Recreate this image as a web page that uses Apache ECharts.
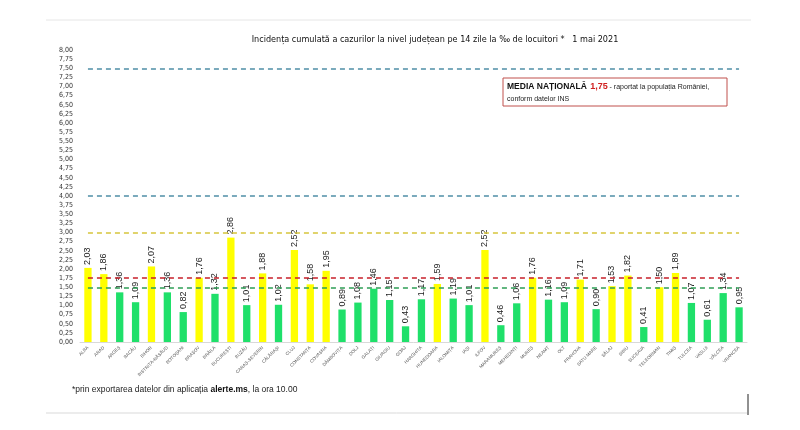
<!DOCTYPE html>
<html>
<head>
<meta charset="utf-8">
<script src="https://cdn.jsdelivr.net/npm/echarts@6/dist/echarts.min.js"></script>
<style>
html,body{margin:0;padding:0;background:#fff;}
#chart{width:800px;height:430px;}
</style>
</head>
<body>
<div id="chart"></div>
<script>
var judete = ['ALBA','ARAD','ARGEȘ','BACĂU','BIHOR','BISTRIȚA-NĂSĂUD','BOTOȘANI','BRAȘOV','BRĂILA','BUCUREȘTI',
	'BUZĂU','CARAȘ-SEVERIN','CĂLĂRAȘI','CLUJ','CONSTANȚA','COVASNA','DÂMBOVIȚA','DOLJ','GALAȚI','GIURGIU',
	'GORJ','HARGHITA','HUNEDOARA','IALOMIȚA','IAȘI','ILFOV','MARAMUREȘ','MEHEDINȚI','MUREȘ','NEAMȚ',
	'OLT','PRAHOVA','SATU MARE','SĂLAJ','SIBIU','SUCEAVA','TELEORMAN','TIMIȘ','TULCEA','VASLUI','VÂLCEA','VRANCEA'];
var incidenta = [2.03,1.86,1.36,1.09,2.07,1.36,0.82,1.76,1.32,2.86,
	1.01,1.88,1.02,2.52,1.58,1.95,0.89,1.08,1.46,1.15,
	0.43,1.17,1.59,1.19,1.01,2.52,0.46,1.06,1.76,1.16,
	1.09,1.71,0.90,1.53,1.82,0.41,1.50,1.89,1.07,0.61,1.34,0.95];
// praguri (linii orizontale)
var praguri = [7.5, 4.0, 3.0, 1.75, 1.5];
var culoriPraguri = ['#4f8ea6','#4f8ea6','#d6c53c','#c8202a','#2e9e55'];
var mediaNationala = '1,75';

var myChart = echarts.init(document.getElementById('chart'));

function fmt(v){
	return v.toFixed(2).replace('.', ',');
}

var linii = [];
for (var i = 0; i < praguri.length; i++) {
	linii.push([
		{coord: [0, praguri[i]], lineStyle: {color: culoriPraguri[i]}},
		{coord: [judete.length - 1, praguri[i]]}
	]);
}

var option = {
	backgroundColor: '#fff',
	animation: false,
	title: {
		text: 'Incidența cumulată a cazurilor la nivel județean pe 14 zile la ‰ de locuitori *   1 mai 2021',
		left: 430,
		top: 30,
		textAlign: 'center',
		textStyle: {
			fontSize: 9,
			fontWeight: 'normal',
			color: '#111',
			fontFamily: 'Liberation Sans Narrow, DejaVu Sans Condensed, sans-serif'
		}
	},
	grid: {
		left: 80,
		right: 53,
		top: 50,
		bottom: 88
	},
	xAxis: {
		type: 'category',
		data: judete,
		axisTick: {show: false},
		axisLine: {lineStyle: {color: '#d9d9d9'}},
		axisLabel: {
			rotate: 45,
			interval: 0,
			fontSize: 4.5,
			color: '#555',
			margin: 5,
			fontFamily: 'Liberation Sans, sans-serif'
		}
	},
	yAxis: {
		type: 'value',
		min: 0,
		max: 8,
		interval: 0.25,
		splitLine: {show: false},
		axisLine: {show: false},
		axisTick: {show: false},
		axisLabel: {
			fontSize: 7,
			color: '#333',
			margin: 7,
			fontFamily: 'Liberation Sans Narrow, DejaVu Sans Condensed, sans-serif',
			formatter: function (v) { return fmt(v); }
		}
	},
	series: [{
		type: 'bar',
		data: incidenta,
		barWidth: '46%',
		itemStyle: {
			color: function (p) {
				return p.value >= 1.5 ? '#ffff00' : '#1fe06a';
			}
		},
		label: {
			show: true,
			position: 'top',
			rotate: 90,
			align: 'left',
			verticalAlign: 'middle',
			distance: 3,
			fontSize: 9,
			color: '#222',
			fontFamily: 'Liberation Sans, sans-serif',
			formatter: function (p) { return fmt(p.value); }
		},
		markLine: {
			silent: true,
			symbol: 'none',
			label: {show: false},
			lineStyle: {type: [5, 4], width: 1.6},
			data: linii
		}
	}],
	graphic: [
		{
			type: 'line',
			shape: {x1: 46, y1: 20, x2: 751, y2: 20},
			style: {stroke: '#e6e6e6', lineWidth: 1}
		},
		{
			type: 'line',
			shape: {x1: 46, y1: 413, x2: 747, y2: 413},
			style: {stroke: '#d9d9d9', lineWidth: 1}
		},
		{
			type: 'line',
			shape: {x1: 748, y1: 394, x2: 748, y2: 415},
			style: {stroke: '#222', lineWidth: 1}
		},
		{
			type: 'rect',
			shape: {x: 503, y: 78, width: 224, height: 28},
			style: {fill: '#fff', stroke: '#c0504d', lineWidth: 1}
		},
		{
			type: 'text',
			left: 507,
			top: 81,
			style: {
				text: '{b|MEDIA NAȚIONALĂ} {r|' + mediaNationala + '}{n| - raportat la populația României,}\n{n|conform datelor INS}',
				fontFamily: 'Liberation Sans, sans-serif',
				rich: {
					b: {fontSize: 8.5, fontWeight: 'bold', fill: '#111', lineHeight: 12},
					r: {fontSize: 9, fontWeight: 'bold', fill: '#d02020', lineHeight: 12},
					n: {fontSize: 7, fill: '#222', lineHeight: 12}
				}
			}
		},
		{
			type: 'text',
			left: 72,
			top: 385,
			style: {
				text: '{n|*prin exportarea datelor din aplicația }{b|alerte.ms}{n|, la ora 10.00}',
				fontFamily: 'Liberation Sans, sans-serif',
				rich: {
					n: {fontSize: 8.5, fill: '#222'},
					b: {fontSize: 8.5, fontWeight: 'bold', fill: '#111'}
				}
			}
		}
	]
};
myChart.setOption(option);
</script>
</body>
</html>
